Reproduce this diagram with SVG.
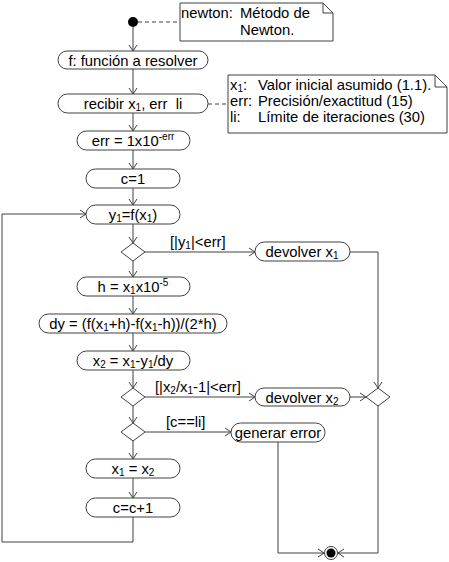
<svg xmlns="http://www.w3.org/2000/svg" width="449" height="562" viewBox="0 0 449 562">
<defs>
<marker id="arr" markerUnits="userSpaceOnUse" markerWidth="12" markerHeight="12" viewBox="-7 -6 8 12" refX="0" refY="0" orient="auto">
<path d="M-6,-4 L0,0 L-6,4" fill="none" stroke="#404040" stroke-width="1"/>
</marker>
</defs>
<style>
text{font-family:"Liberation Sans",Arial,sans-serif;font-size:14.8px;fill:#000}
.n{fill:#fff;stroke:#404040;stroke-width:1}
.c{fill:none;stroke:#404040;stroke-width:1}
.a{marker-end:url(#arr)}
.d{fill:none;stroke:#404040;stroke-width:1;stroke-dasharray:4,3}
.m{text-anchor:middle}
.s{font-size:10px}
</style>
<rect width="449" height="562" fill="#fff"/>
<g id="connectors">
<path class="d" d="M138,22 H180"/>
<path class="d" d="M208,104 H228"/>
<path class="c a" d="M133,27 V51"/>
<path class="c a" d="M133,69 V94"/>
<path class="c a" d="M133,113 V131"/>
<path class="c a" d="M133,150 V169"/>
<path class="c a" d="M133,188 V205"/>
<path class="c a" d="M133,224 V243"/>
<path class="c a" d="M145,252 H255"/>
<path class="c a" d="M133,261 V277"/>
<path class="c a" d="M133,296 V314"/>
<path class="c a" d="M133,333 V351"/>
<path class="c a" d="M133,370 V388"/>
<path class="c a" d="M145,397 H255"/>
<path class="c a" d="M350,397 H366"/>
<path class="c a" d="M350,252 H378 V388"/>
<path class="c a" d="M378,406 V553 H338"/>
<path class="c a" d="M133,406 V423"/>
<path class="c a" d="M145,432 H231"/>
<path class="c a" d="M278,442 V553 H324"/>
<path class="c a" d="M133,441 V459"/>
<path class="c a" d="M133,478 V498"/>
<path class="c a" d="M133,517 V542 H2 V214 H86"/>
<text x="170" y="247">[|y<tspan class="s" dy="2">1</tspan><tspan dy="-2">|&lt;err]</tspan></text>
<text x="155" y="392">[|x<tspan class="s" dy="2">2</tspan><tspan dy="-2">/x</tspan><tspan class="s" dy="2">1</tspan><tspan dy="-2">-1|&lt;err]</tspan></text>
<text x="166" y="427">[c==li]</text>
</g>
<g id="start"><circle cx="133" cy="22" r="5" fill="#000"/></g>
<g id="note1">
<path class="n" d="M180,3 H323 L333,13 V41 H180 Z"/>
<path class="c" d="M323,3 V13 H333"/>
<text x="181" y="18">newton:</text>
<text x="240" y="18">Método de</text>
<text x="240" y="35">Newton.</text>
</g>
<g id="n_f"><rect class="n" x="58" y="51" width="150" height="18" rx="9"/><text class="m" x="133" y="65.5">f: función a resolver</text></g>
<g id="n_recibir"><rect class="n" x="58" y="94" width="150" height="19" rx="9.5"/><text class="m" x="133" y="109">recibir x<tspan class="s" dy="2">1</tspan><tspan dy="-2">, err&#160; li</tspan></text></g>
<g id="note2">
<path class="n" d="M228,75 H435 L447,87 V133 H228 Z"/>
<path class="c" d="M435,75 V87 H447"/>
<text x="230" y="90">x<tspan class="s" dy="2">1</tspan><tspan dy="-2">:</tspan></text>
<text x="258" y="90">Valor inicial asumido (1.1).</text>
<text x="230" y="106">err:</text>
<text x="258" y="106">Precisión/exactitud (15)</text>
<text x="230" y="122">li:</text>
<text x="258" y="122">Límite de iteraciones (30)</text>
</g>
<g id="n_err"><rect class="n" x="77" y="131" width="113" height="19" rx="9.5"/><text class="m" x="133" y="146">err = 1x10<tspan class="s" dy="-6">-err</tspan></text></g>
<g id="n_c1"><rect class="n" x="86" y="169" width="94" height="19" rx="9.5"/><text class="m" x="133" y="184">c=1</text></g>
<g id="n_y1"><rect class="n" x="86" y="205" width="94" height="19" rx="9.5"/><text class="m" x="133" y="220">y<tspan class="s" dy="2">1</tspan><tspan dy="-2">=f(x</tspan><tspan class="s" dy="2">1</tspan><tspan dy="-2">)</tspan></text></g>
<g id="dec1"><path class="n" d="M121,252 L133,243 L145,252 L133,261 Z"/></g>
<g id="n_dev1"><rect class="n" x="255" y="242" width="95" height="19" rx="9.5"/><text class="m" x="302" y="257">devolver x<tspan class="s" dy="2">1</tspan></text></g>
<g id="n_h"><rect class="n" x="77" y="277" width="113" height="19" rx="9.5"/><text class="m" x="133" y="292">h = x<tspan class="s" dy="2">1</tspan><tspan dy="-2">x10</tspan><tspan class="s" dy="-6">-5</tspan></text></g>
<g id="n_dy"><rect class="n" x="39" y="314" width="188" height="19" rx="9.5"/><text class="m" x="133" y="329">dy = (f(x<tspan class="s" dy="2">1</tspan><tspan dy="-2">+h)-f(x</tspan><tspan class="s" dy="2">1</tspan><tspan dy="-2">-h))/(2*h)</tspan></text></g>
<g id="n_x2"><rect class="n" x="77" y="351" width="113" height="19" rx="9.5"/><text class="m" x="133" y="366">x<tspan class="s" dy="2">2</tspan><tspan dy="-2"> = x</tspan><tspan class="s" dy="2">1</tspan><tspan dy="-2">-y</tspan><tspan class="s" dy="2">1</tspan><tspan dy="-2">/dy</tspan></text></g>
<g id="dec2"><path class="n" d="M121,397 L133,388 L145,397 L133,406 Z"/></g>
<g id="n_dev2"><rect class="n" x="255" y="388" width="95" height="18" rx="9"/><text class="m" x="302" y="402.5">devolver x<tspan class="s" dy="2">2</tspan></text></g>
<g id="merge"><path class="n" d="M366,397 L378,388 L390,397 L378,406 Z"/></g>
<g id="dec3"><path class="n" d="M121,432 L133,423 L145,432 L133,441 Z"/></g>
<g id="n_gen"><rect class="n" x="231" y="423" width="94" height="19" rx="9.5"/><text class="m" x="278" y="438">generar error</text></g>
<g id="n_x1x2"><rect class="n" x="86" y="459" width="94" height="19" rx="9.5"/><text class="m" x="133" y="474">x<tspan class="s" dy="2">1</tspan><tspan dy="-2"> = x</tspan><tspan class="s" dy="2">2</tspan></text></g>
<g id="n_cc"><rect class="n" x="86" y="498" width="94" height="19" rx="9.5"/><text class="m" x="133" y="513">c=c+1</text></g>
<g id="end"><circle cx="331" cy="553" r="6.5" fill="#fff" stroke="#404040" stroke-width="1"/><circle cx="331" cy="553" r="4.5" fill="#000"/></g>
</svg>
